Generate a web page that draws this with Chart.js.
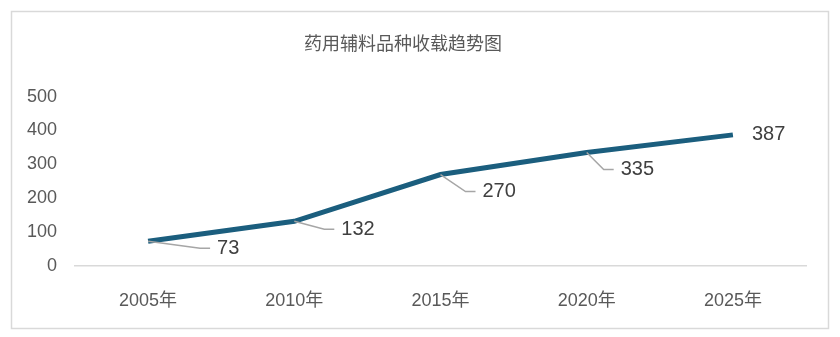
<!DOCTYPE html>
<html>
<head>
<meta charset="utf-8">
<script src="https://cdn.jsdelivr.net/npm/chart.js@4/dist/chart.umd.min.js"></script>
<style>
  html, body { margin: 0; padding: 0; background: #fff; }
  #wrap { width: 840px; height: 337px; }
</style>
</head>
<body>
<div id="wrap"><canvas id="trendChart"></canvas></div>
<script>
// 收载品种数据
const years = ['2005年', '2010年', '2015年', '2020年', '2025年'];
const counts = [73, 132, 270, 335, 387];
const yTicks = [0, 100, 200, 300, 400, 500];

const FONT = "'Liberation Sans', 'Noto Sans CJK SC', sans-serif";

// 外框
const frame = {
    id: 'frame',
    beforeDraw(chart) {
        const c = chart.ctx;
        c.save();
        c.fillStyle = '#fff';
        c.fillRect(0, 0, chart.width, chart.height);
        c.strokeStyle = '#d9d9d9';
        c.lineWidth = 1.5;
        c.strokeRect(11.5, 11.5, 817, 317);
        c.restore();
    }
};

// 数据标签 + 引导线
const leaderLabels = {
    id: 'leaderLabels',
    afterDatasetsDraw(chart, args, opts) {
        const c = chart.ctx;
        const pts = chart.getDatasetMeta(0).data;
        c.save();
        c.font = '20px ' + FONT;
        c.textBaseline = 'middle';
        c.textAlign = 'left';
        pts.forEach((p, i) => {
            const [dx, dy, leader] = opts.offsets[i];
            const tx = p.x + dx, ty = p.y + dy;
            if (leader) {
                c.strokeStyle = '#a6a6a6';
                c.lineWidth = 1.5;
                c.beginPath();
                c.moveTo(p.x, p.y);
                c.lineTo(tx - 17, ty);
                c.lineTo(tx - 7, ty);
                c.stroke();
            }
            c.fillStyle = '#404040';
            c.fillText(String(counts[i]), tx, ty);
        });
        c.restore();
    }
};

new Chart(document.getElementById('trendChart'), {
    type: 'line',
    data: {
        labels: years,
        datasets: [{
            data: counts,
            borderColor: '#1b5e7e',
            borderWidth: 5,
            pointRadius: 0,
            tension: 0,
            fill: false
        }]
    },
    options: {
        responsive: true,
        maintainAspectRatio: false,
        animation: false,
        layout: { padding: { left: 0, right: 34, top: 0, bottom: 0 } },
        plugins: {
            legend: { display: false },
            tooltip: { enabled: false },
            title: {
                display: true,
                text: '药用辅料品种收载趋势图',
                color: '#595959',
                font: { family: FONT, size: 18, weight: 'normal' },
                padding: { top: 34, bottom: 41 }
            },
            leaderLabels: {
                offsets: [[69, 7, true], [47, 8, true], [42, 17, true], [34, 17, true], [19, 0, false]]
            }
        },
        scales: {
            x: {
                offset: true,
                grid: { display: false, drawTicks: false },
                border: { display: true, color: '#d9d9d9', width: 1.5 },
                ticks: { color: '#595959', font: { family: FONT, size: 18 }, padding: 24 },
                afterFit(s) { s.height = 71; }
            },
            y: {
                min: 0,
                max: 500,
                afterBuildTicks(s) { s.ticks = yTicks.map(v => ({ value: v })); },
                grid: { display: false, drawTicks: false },
                border: { display: false },
                ticks: { color: '#595959', font: { family: FONT, size: 18 }, padding: 18 },
                afterFit(s) { s.width = 75; }
            }
        }
    },
    plugins: [frame, leaderLabels]
});
</script>
</body>
</html>
